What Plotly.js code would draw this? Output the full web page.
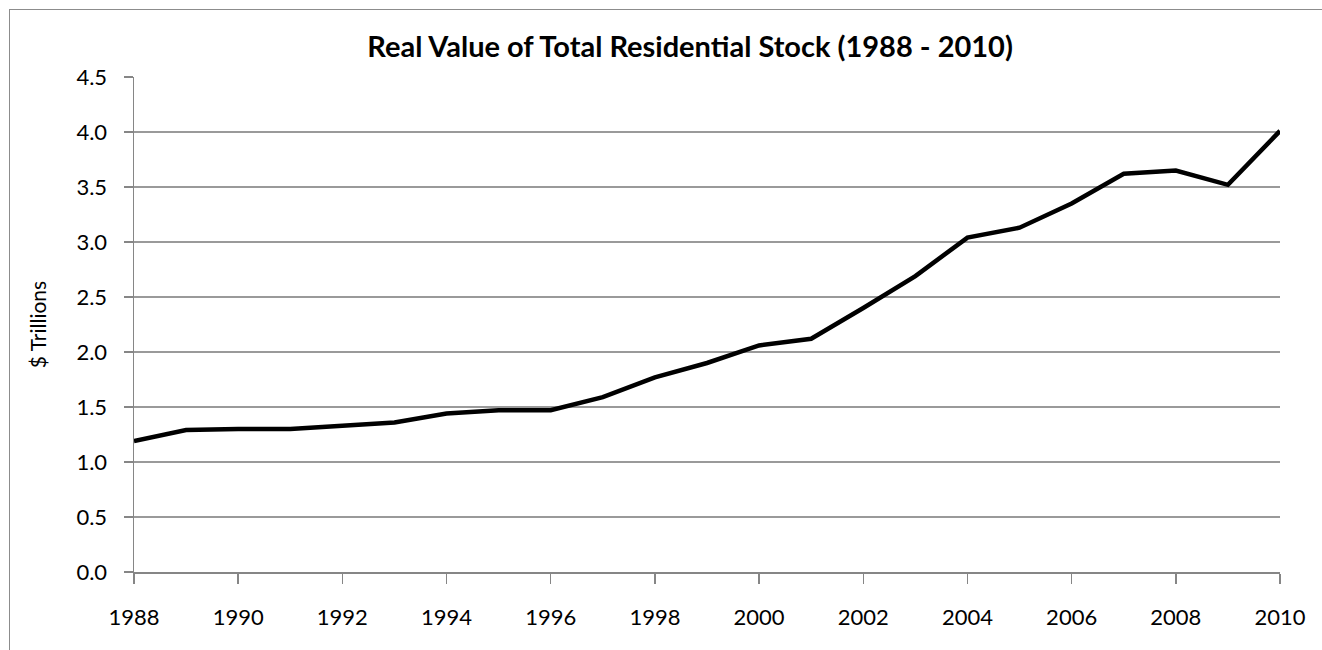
<!DOCTYPE html>
<html>
<head>
<meta charset="utf-8">
<script src="https://cdn.plot.ly/plotly-3.0.1.min.js"></script>
<style>
  html, body { margin: 0; padding: 0; background: #fff; }
  #wrap { position: relative; width: 1322px; height: 650px; overflow: hidden; }
  #chart { position: absolute; left: 0; top: 0; width: 1322px; height: 650px; }
  #frame { position: absolute; left: 9px; top: 9px; width: 1400px; height: 700px; border: 1.5px solid #8c8c8c; pointer-events: none; }
</style>
</head>
<body>
<div id="wrap">
  <div id="chart"></div>
  <div id="frame"></div>
</div>
<script>
const years = [1988, 1989, 1990, 1991, 1992, 1993, 1994, 1995, 1996, 1997, 1998, 1999,
               2000, 2001, 2002, 2003, 2004, 2005, 2006, 2007, 2008, 2009, 2010];
const values = [1.19, 1.29, 1.30, 1.30, 1.33, 1.36, 1.44, 1.47, 1.47, 1.59, 1.77, 1.90,
                2.06, 2.12, 2.40, 2.69, 3.04, 3.13, 3.35, 3.62, 3.65, 3.52, 4.01];
const yTicks = [0, 0.5, 1, 1.5, 2, 2.5, 3, 3.5, 4, 4.5];
const xTicks = [1988, 1990, 1992, 1994, 1996, 1998, 2000, 2002, 2004, 2006, 2008, 2010];

const font = "Lato, 'Open Sans', 'DejaVu Sans', sans-serif";

Plotly.newPlot('chart', [{
  x: years,
  y: values,
  type: 'scatter',
  mode: 'lines',
  line: { color: '#000000', width: 4.5 },
  hoverinfo: 'x+y'
}], {
  width: 1322,
  height: 650,
  margin: { l: 134, r: 42, t: 77, b: 78 },
  paper_bgcolor: '#ffffff',
  plot_bgcolor: '#ffffff',
  showlegend: false,
  title: {
    text: '<b>Real Value of Total Residential Stock (1988 - 2010)</b>',
    font: { family: font, size: 29, color: '#000000' },
    x: 0.522, xref: 'container', xanchor: 'center',
    y: 0.928, yref: 'container', yanchor: 'middle'
  },
  xaxis: {
    range: [1988, 2010],
    tickvals: xTicks,
    ticktext: xTicks.map(String),
    showgrid: false,
    zeroline: false,
    showline: true,
    linecolor: '#868686',
    linewidth: 1.5,
    ticks: 'outside',
    ticklen: 10,
    tickcolor: '#868686',
    tickwidth: 1.5,
    ticklabelstandoff: 15,
    tickfont: { family: font, size: 22, color: '#000000' }
  },
  yaxis: {
    range: [0, 4.5],
    tickvals: yTicks,
    ticktext: yTicks.map(v => v.toFixed(1)),
    showgrid: true,
    gridcolor: '#9a9a9a',
    gridwidth: 1.3,
    zeroline: false,
    showline: true,
    linecolor: '#868686',
    linewidth: 1.5,
    ticks: 'outside',
    ticklen: 9,
    tickcolor: '#868686',
    tickwidth: 1.5,
    ticklabelstandoff: 12,
    tickfont: { family: font, size: 22, color: '#000000' },
    title: {
      text: '$ Trillions',
      font: { family: font, size: 21, color: '#000000' },
      standoff: 24
    }
  }
}, { displayModeBar: false, staticPlot: true });
</script>
</body>
</html>
